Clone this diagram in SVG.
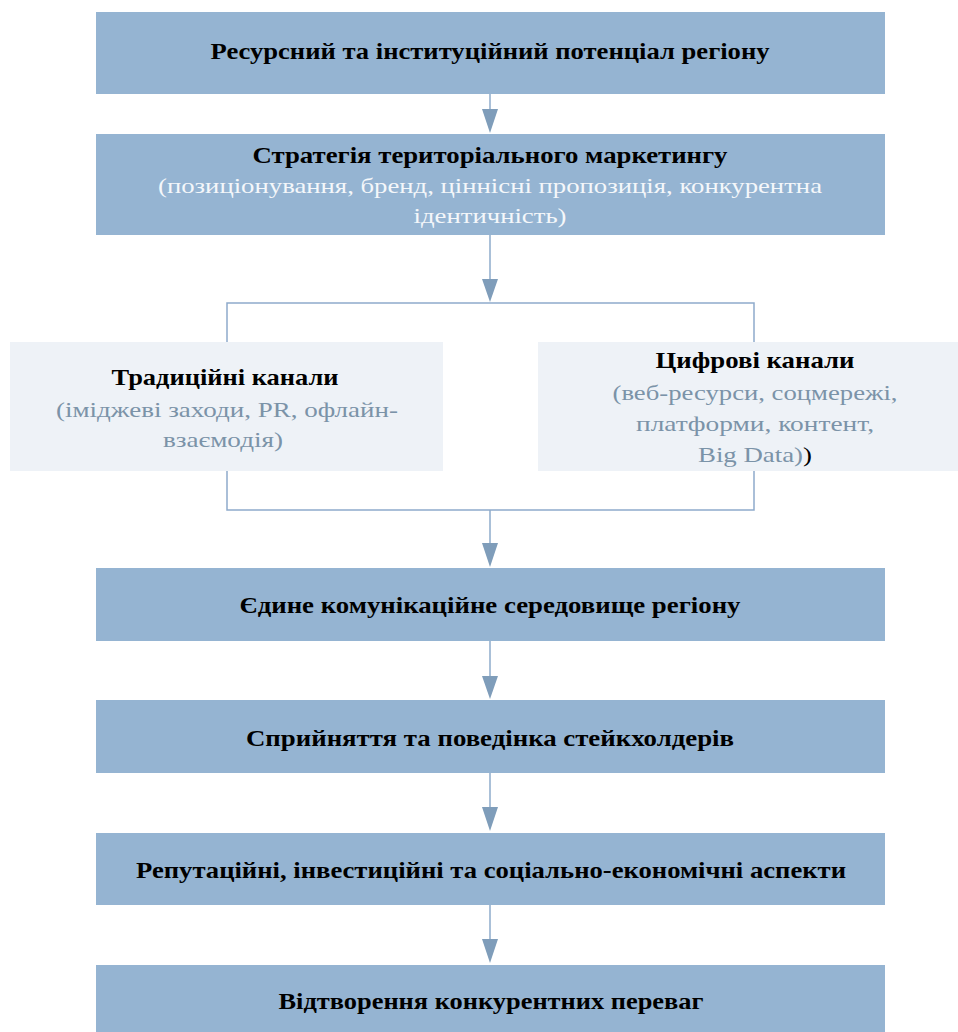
<svg xmlns="http://www.w3.org/2000/svg" width="958" height="1032" viewBox="0 0 958 1032">
<style>
.main{fill:#95b4d2}
.light{fill:#eef2f7}
.t{font-family:"Liberation Serif","Tinos","Times New Roman","DejaVu Serif",serif;font-size:22px;text-anchor:middle}
.b{font-weight:bold;fill:#000;font-size:23.5px}
.w{fill:#f4f7fa}
.g{fill:#7b93a8}
.ln{stroke:#8eabcb;stroke-width:1.5;fill:none}
.ah{fill:#7f9dba}
</style>
<rect width="958" height="1032" fill="#fff"/>
<g id="connectors">
<line class="ln" x1="490" y1="94" x2="490" y2="111"/>
<polygon class="ah" points="482,109 498,109 490,133"/>
<line class="ln" x1="490" y1="235" x2="490" y2="281"/>
<polygon class="ah" points="482,279 498,279 490,302"/>
<polyline class="ln" points="227,342 227,303 754,303 754,342"/>
<polyline class="ln" points="227,471 227,510 754,510 754,471"/>
<line class="ln" x1="490" y1="510" x2="490" y2="545"/>
<polygon class="ah" points="482,543 498,543 490,567"/>
<line class="ln" x1="490" y1="641" x2="490" y2="678"/>
<polygon class="ah" points="482,676 498,676 490,699"/>
<line class="ln" x1="490" y1="773" x2="490" y2="809"/>
<polygon class="ah" points="482,807 498,807 490,831"/>
<line class="ln" x1="490" y1="905" x2="490" y2="941"/>
<polygon class="ah" points="482,939 498,939 490,963"/>
</g>
<g id="n1">
<rect class="main" x="96" y="12" width="789" height="82"/>
<text class="t b" x="490" y="59" textLength="559" lengthAdjust="spacingAndGlyphs">Ресурсний та інституційний потенціал регіону</text>
</g>
<g id="n2">
<rect class="main" x="96" y="134" width="789" height="101"/>
<text class="t b" x="490" y="163" textLength="475" lengthAdjust="spacingAndGlyphs">Стратегія територіального маркетингу</text>
<text class="t w" x="490" y="193" textLength="664" lengthAdjust="spacingAndGlyphs">(позиціонування, бренд, ціннісні пропозиція, конкурентна</text>
<text class="t w" x="490" y="223" textLength="153" lengthAdjust="spacingAndGlyphs">ідентичність)</text>
</g>
<g id="n3">
<rect class="light" x="10" y="342" width="433" height="129"/>
<text class="t b" x="225" y="385" textLength="227" lengthAdjust="spacingAndGlyphs">Традиційні канали</text>
<text class="t g" x="227" y="417" textLength="342" lengthAdjust="spacingAndGlyphs">(іміджеві заходи, PR, офлайн-</text>
<text class="t g" x="223" y="447" textLength="120" lengthAdjust="spacingAndGlyphs">взаємодія)</text>
</g>
<g id="n4">
<rect class="light" x="538" y="342" width="420" height="129"/>
<text class="t b" x="755" y="368" textLength="199" lengthAdjust="spacingAndGlyphs">Цифрові канали</text>
<text class="t g" x="755" y="400" textLength="285" lengthAdjust="spacingAndGlyphs">(веб-ресурси, соцмережі,</text>
<text class="t g" x="755" y="431" textLength="238" lengthAdjust="spacingAndGlyphs">платформи, контент,</text>
<text class="t g" x="755" y="462" textLength="114" lengthAdjust="spacingAndGlyphs">Big Data)<tspan fill="#000">)</tspan></text>
</g>
<g id="n5">
<rect class="main" x="96" y="568" width="789" height="73"/>
<text class="t b" x="490" y="613" textLength="501" lengthAdjust="spacingAndGlyphs">Єдине комунікаційне середовище регіону</text>
</g>
<g id="n6">
<rect class="main" x="96" y="700" width="789" height="73"/>
<text class="t b" x="490" y="746" textLength="488" lengthAdjust="spacingAndGlyphs">Сприйняття та поведінка стейкхолдерів</text>
</g>
<g id="n7">
<rect class="main" x="96" y="833" width="789" height="72"/>
<text class="t b" x="491" y="878" textLength="710" lengthAdjust="spacingAndGlyphs">Репутаційні, інвестиційні та соціально-економічні аспекти</text>
</g>
<g id="n8">
<rect class="main" x="96" y="965" width="789" height="70"/>
<text class="t b" x="491" y="1009" textLength="425" lengthAdjust="spacingAndGlyphs">Відтворення конкурентних переваг</text>
</g>
</svg>
